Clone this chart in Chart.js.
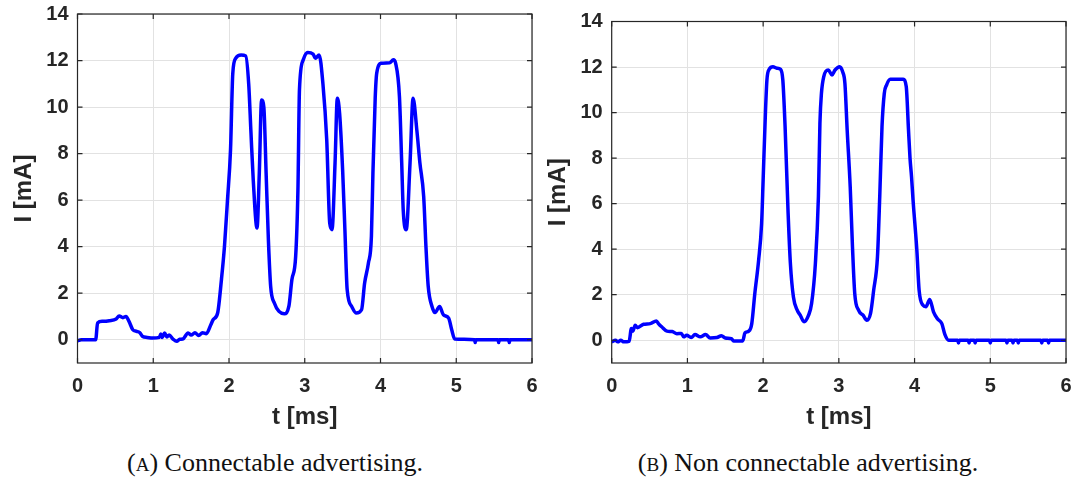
<!DOCTYPE html>
<html>
<head>
<meta charset="utf-8">
<script src="https://cdn.jsdelivr.net/npm/chart.js@4.4.0/dist/chart.umd.min.js"></script>
<style>
  body { margin: 0; background: #fff; width: 1077px; height: 481px; position: relative; overflow: hidden; }
  .panel { position: absolute; top: 0; height: 440px; }
  .caption { position: absolute; top: 448px; font-family: "Liberation Serif", "Times New Roman", serif; font-size: 26px; color: #111; white-space: nowrap; transform: translateX(-50%); }
  .sc { font-size: 19px; }
</style>
</head>
<body>
<div class="panel" style="left:0;width:545px"><canvas id="chartA"></canvas></div>
<div class="panel" style="left:537px;width:540px"><canvas id="chartB"></canvas></div>
<div class="caption" style="left:275px">(<span class="sc">A</span>) Connectable advertising.</div>
<div class="caption" style="left:808px">(<span class="sc">B</span>) Non connectable advertising.</div>

<script>
// axis ticks
const xTicks = [0, 1, 2, 3, 4, 5, 6];
const yTicks = [0, 2, 4, 6, 8, 10, 12, 14];

// (A) connectable advertising: time [ms] / current [mA]
const tA = [0, 0.05, 0.24, 0.265, 0.33, 0.42, 0.51, 0.55, 0.60, 0.64, 0.68, 0.73, 0.78, 0.82, 0.86, 0.92,
  0.99, 1.08, 1.10, 1.12, 1.15, 1.18, 1.21, 1.26, 1.31, 1.35, 1.39, 1.46, 1.50, 1.55, 1.60, 1.65, 1.70,
  1.76, 1.79, 1.85, 1.90, 1.94, 1.98, 2.02, 2.05, 2.09, 2.16, 2.22, 2.26, 2.29, 2.32, 2.37, 2.40, 2.43,
  2.46, 2.49, 2.52, 2.55, 2.60, 2.66, 2.73, 2.79, 2.83, 2.88, 2.91, 2.93, 2.98, 3.04, 3.11, 3.14, 3.19,
  3.24, 3.29, 3.33, 3.36, 3.40, 3.43, 3.46, 3.50, 3.53, 3.56, 3.62, 3.68, 3.75, 3.79, 3.84, 3.88, 3.90,
  3.93, 3.95, 4.01, 4.12, 4.17, 4.20, 4.25, 4.28, 4.30, 4.34, 4.39, 4.43, 4.48, 4.52, 4.57, 4.60, 4.63,
  4.68, 4.72, 4.78, 4.83, 4.90, 4.94, 4.98, 5.24, 5.25, 5.26, 5.55, 5.56, 5.57, 5.69, 5.70, 5.71, 6.0];
const iA = [-0.05, 0, 0, 0.72, 0.79, 0.82, 0.89, 1.02, 0.95, 1.0, 0.79, 0.43, 0.36, 0.31, 0.14, 0.1,
  0.07, 0.1, 0.25, 0.1, 0.29, 0.12, 0.2, 0.03, -0.07, 0.02, 0.03, 0.29, 0.2, 0.3, 0.18, 0.3, 0.26,
  0.64, 0.86, 1.15, 2.58, 4.0, 6.0, 8.16, 11.45, 12.1, 12.24, 12.2, 11.0, 8.9, 6.87, 4.8, 7.16, 10.3,
  10.0, 7.16, 4.3, 2.29, 1.57, 1.22, 1.12, 1.43, 2.58, 3.58, 6.44, 10.74, 12.03, 12.34, 12.28, 12.1, 12.24,
  11.0, 8.6, 5.0, 4.73, 7.6, 10.38, 9.74, 7.3, 4.73, 2.15, 1.43, 1.15, 1.29, 2.43, 3.29, 4.44, 7.16,
  10.38, 11.45, 11.88, 11.9, 12.03, 11.88, 10.45, 7.6, 5.58, 4.73, 7.6, 10.38, 9.0, 7.6, 6.16, 4.0, 2.29,
  1.43, 1.17, 1.43, 1.07, 0.93, 0.43, 0.03, 0, -0.12, 0, 0, -0.12, 0, 0, -0.12, 0, 0];

// (B) non connectable advertising
const tB = [0, 0.05, 0.08, 0.12, 0.16, 0.23, 0.26, 0.28, 0.31, 0.34, 0.42, 0.51, 0.59, 0.62, 0.66, 0.73,
  0.80, 0.86, 0.92, 0.95, 0.99, 1.05, 1.10, 1.17, 1.24, 1.30, 1.39, 1.45, 1.50, 1.58, 1.61, 1.73, 1.76,
  1.81, 1.85, 1.89, 1.94, 1.98, 2.00, 2.03, 2.05, 2.08, 2.13, 2.18, 2.23, 2.26, 2.29, 2.33, 2.36, 2.40,
  2.45, 2.49, 2.54, 2.60, 2.64, 2.69, 2.73, 2.75, 2.77, 2.80, 2.86, 2.91, 2.95, 3.01, 3.05, 3.08, 3.11,
  3.15, 3.18, 3.21, 3.26, 3.32, 3.37, 3.42, 3.46, 3.51, 3.54, 3.57, 3.60, 3.63, 3.68, 3.85, 3.89, 3.92,
  3.94, 3.96, 3.98, 4.03, 4.06, 4.11, 4.15, 4.20, 4.25, 4.30, 4.36, 4.40, 4.45, 4.57, 4.58, 4.59, 4.71,
  4.72, 4.73, 4.79, 4.80, 4.81, 4.99, 5.00, 5.01, 5.21, 5.22, 5.23, 5.29, 5.30, 5.31, 5.36, 5.37, 5.38,
  5.67, 5.68, 5.69, 5.76, 5.77, 5.78, 6.0];
const iB = [-0.07, 0, -0.07, 0, -0.07, -0.05, 0.51, 0.4, 0.66, 0.55, 0.70, 0.73, 0.85, 0.72, 0.59, 0.40,
  0.38, 0.29, 0.3, 0.15, 0.22, 0.12, 0.25, 0.15, 0.25, 0.1, 0.12, 0.2, 0.1, 0.07, -0.03, -0.03, 0.32,
  0.40, 0.73, 2.05, 3.5, 5.13, 7.03, 9.96, 11.43, 11.9, 12.01, 11.95, 11.9, 11.43, 9.38, 5.57, 3.37, 1.90,
  1.32, 1.10, 0.81, 1.10, 1.61, 3.37, 6.30, 9.52, 10.84, 11.57, 11.87, 11.65, 11.87, 12.01, 11.79, 11.28, 9.23,
  6.74, 4.10, 2.05, 1.32, 1.10, 0.88, 1.20, 2.20, 3.66, 6.30, 9.38, 10.84, 11.21, 11.46, 11.46, 11.14, 9.23,
  7.99, 7.18, 6.15, 3.96, 2.20, 1.54, 1.47, 1.79, 1.25, 0.95, 0.73, 0.26, 0, 0, -0.12, 0, 0,
  -0.12, 0, 0, -0.12, 0, 0, -0.12, 0, 0, -0.12, 0, 0, -0.12, 0, 0, -0.12, 0,
  0, -0.12, 0, 0, -0.12, 0, 0];

const INK = '#262626';
const FONT = '"Liberation Sans", Arial, sans-serif';

// box around the plot area with short inward tick marks on all four sides
const boxTicks = {
  id: 'boxTicks',
  afterDraw(chart) {
    const { ctx, chartArea: a, scales } = chart;
    const len = 5;
    ctx.save();
    ctx.strokeStyle = INK;
    ctx.lineWidth = 1.2;
    ctx.strokeRect(a.left, a.top, a.right - a.left, a.bottom - a.top);
    ctx.beginPath();
    scales.x.ticks.forEach(tk => {
      const px = scales.x.getPixelForValue(tk.value);
      ctx.moveTo(px, a.bottom); ctx.lineTo(px, a.bottom - len);
      ctx.moveTo(px, a.top); ctx.lineTo(px, a.top + len);
    });
    scales.y.ticks.forEach(tk => {
      const py = scales.y.getPixelForValue(tk.value);
      ctx.moveTo(a.left, py); ctx.lineTo(a.left + len, py);
      ctx.moveTo(a.right, py); ctx.lineTo(a.right - len, py);
    });
    ctx.stroke();
    ctx.restore();
  }
};

// yWidth fixes the y axis box, padTop / padRight the space left around the plot
function makeChart(id, t, cur, yWidth, padTop, padRight, yTitlePad) {
  return new Chart(document.getElementById(id), {
    type: 'line',
    data: {
      datasets: [{
        data: t.map((v, k) => ({ x: v, y: cur[k] })),
        borderColor: '#0000ff',
        borderWidth: 3.5,
        borderJoinStyle: 'round',
        pointRadius: 0,
        cubicInterpolationMode: 'monotone'
      }]
    },
    options: {
      responsive: true,
      maintainAspectRatio: false,
      animation: false,
      layout: { padding: 0 },
      plugins: { legend: { display: false }, tooltip: { enabled: false } },
      scales: {
        x: {
          type: 'linear', min: 0, max: 6,
          afterBuildTicks: s => { s.ticks = xTicks.map(v => ({ value: v })); },
          afterFit: s => { s.height = 77; s.paddingLeft = 0; s.paddingRight = padRight; },
          grid: { color: '#e2e2e2', lineWidth: 1, drawTicks: false },
          border: { display: false },
          ticks: { padding: 11, color: INK, font: { family: FONT, size: 20, weight: 'bold' } },
          title: { display: true, text: 't [ms]', color: INK, padding: { top: 0, bottom: 8 },
                   font: { family: FONT, size: 24, weight: 'bold' } }
        },
        y: {
          type: 'linear', min: -1, max: 14,
          afterBuildTicks: s => { s.ticks = yTicks.map(v => ({ value: v })); },
          afterFit: s => { s.width = yWidth; s.paddingTop = padTop; s.paddingBottom = 0; },
          grid: { color: '#e2e2e2', lineWidth: 1, drawTicks: false },
          border: { display: false },
          ticks: { padding: 9, color: INK, font: { family: FONT, size: 20, weight: 'bold' } },
          title: { display: true, text: 'I [mA]', color: INK, padding: { top: yTitlePad, bottom: 0 },
                   font: { family: FONT, size: 24, weight: 'bold' } }
        }
      }
    },
    plugins: [boxTicks]
  });
}

makeChart('chartA', tA, iA, 77.5, 14, 13, 9.5);
makeChart('chartB', tB, iB, 74.7, 21.5, 11, 6.5);
</script>
</body>
</html>
